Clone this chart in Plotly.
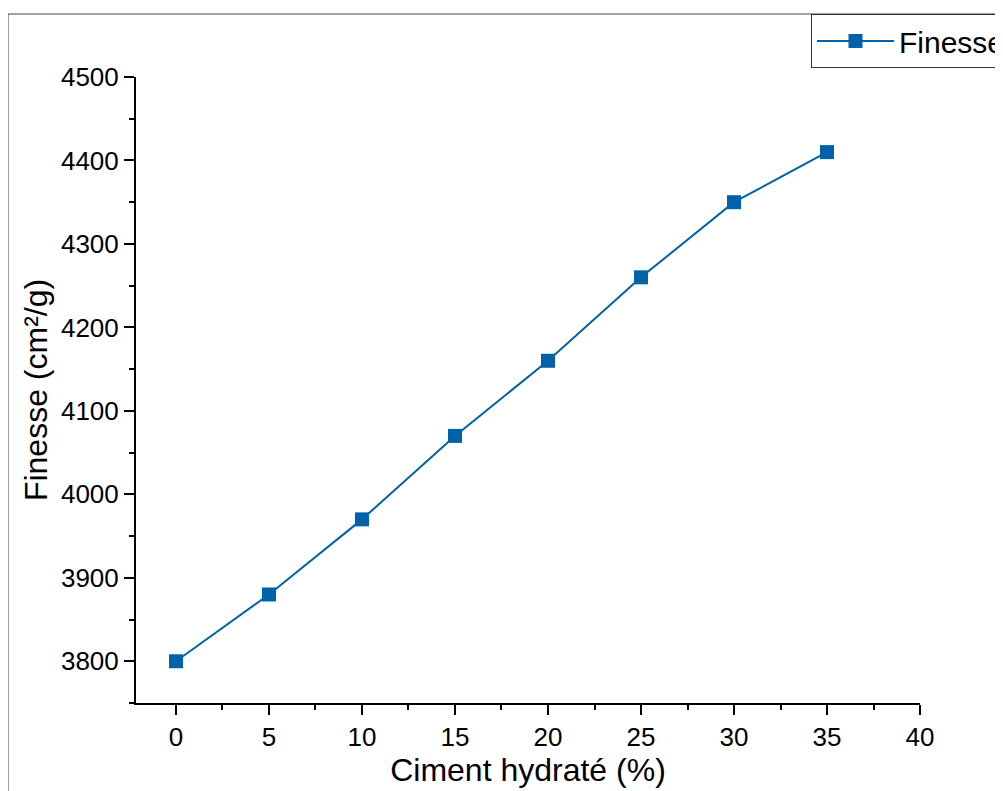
import plotly.graph_objects as go

ciment = [0, 5, 10, 15, 20, 25, 30, 35]
finesse = [3800, 3880, 3970, 4070, 4160, 4260, 4350, 4410]

W, H = 1003, 791
OFF = 8  # page body margin offset
L, R, T, B = 136 - OFF, 920 - OFF, 77 - OFF, 703 - OFF
pw, ph = R - L, B - T

color = "#0063a9"
font = "Liberation Sans, Arial, sans-serif"

fig = go.Figure()
fig.add_trace(go.Scatter(
    x=ciment, y=finesse, mode="lines+markers", name="Finesse",
    line=dict(color=color, width=2),
    marker=dict(symbol="square", size=14, color=color),
))

fig.update_layout(
    width=W, height=H,
    margin=dict(l=L, r=W - R, t=T, b=H - B, pad=0, autoexpand=False),
    paper_bgcolor="white", plot_bgcolor="white",
    font=dict(family=font, color="black", size=26),
    showlegend=True,
    legend=dict(
        xref="container", yref="container",
        x=(811 - OFF) / W, y=1 - (14 - OFF) / H, xanchor="left", yanchor="top",
        bgcolor="white", bordercolor="#333333", borderwidth=1,
        font=dict(size=30, family=font),
        itemwidth=77, tracegroupgap=0,
    ),
    xaxis=dict(
        range=[-2.15, 40], tickmode="array", tickvals=[0, 5, 10, 15, 20, 25, 30, 35, 40],
        showgrid=False, zeroline=False, showline=True, linecolor="black", linewidth=2,
        ticks="outside", ticklen=10, tickwidth=2, tickcolor="black",
        minor=dict(tickvals=[2.5, 7.5, 12.5, 17.5, 22.5, 27.5, 32.5, 37.5],
                   ticks="outside", ticklen=5, tickwidth=2, tickcolor="black"),
        tickfont=dict(size=26),
        title=dict(text="Ciment hydraté (%)", font=dict(size=32), standoff=4),
    ),
    yaxis=dict(
        range=[3750, 4500], tickmode="array",
        tickvals=[3800, 3900, 4000, 4100, 4200, 4300, 4400, 4500],
        showgrid=False, zeroline=False, showline=True, linecolor="black", linewidth=2,
        ticks="outside", ticklen=10, tickwidth=2, tickcolor="black",
        minor=dict(tickvals=[3750, 3850, 3950, 4050, 4150, 4250, 4350, 4450],
                   ticks="outside", ticklen=5, tickwidth=2, tickcolor="black"),
        tickfont=dict(size=26),
        title=dict(text="Finesse (cm²/g)", font=dict(size=32), standoff=4),
    ),
)

# outer frame of the original figure
fig.add_shape(type="rect", xref="paper", yref="paper",
              x0=(8 - OFF - L) / pw, x1=(1020 - L) / pw,
              y0=(B - 820) / ph, y1=(B - (14 - OFF)) / ph,
              line=dict(color="#444444", width=1), layer="below")

fig.write_html("out.html")
